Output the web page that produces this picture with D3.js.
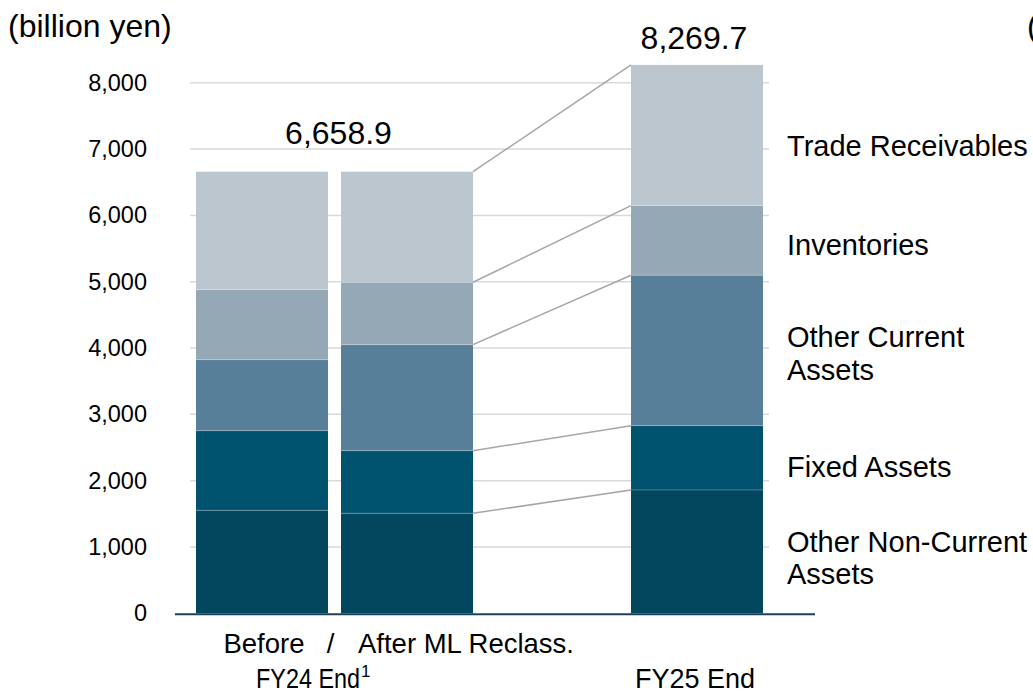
<!DOCTYPE html>
<html>
<head>
<meta charset="utf-8">
<script src="https://cdn.jsdelivr.net/npm/d3@7"></script>
<style>
  html, body { margin: 0; padding: 0; background: #fff; }
  svg { display: block; font-family: "Liberation Sans", Arial, sans-serif; }
</style>
</head>
<body>
<svg id="chart"></svg>
<script>
const categories = ["Before", "After ML Reclass.", "FY25 End"];
const seriesNames = ["Other Non-Current Assets", "Fixed Assets", "Other Current Assets", "Inventories", "Trade Receivables"];
const otherNonCurrent = [1553, 1508, 1860];
const fixedAssets = [1201, 944, 970];
const otherCurrent = [1071, 1599, 2268];
const inventories = [1056, 941, 1050];
const tradeReceivables = [1777.9, 1666.9, 2121.7];
const totals = [6658.9, 6658.9, 8269.7];
const yTicks = [0, 1000, 2000, 3000, 4000, 5000, 6000, 7000, 8000];
const seriesColors = ["#03475f", "#00536f", "#587f99", "#95a8b5", "#bcc6cf"];
const rightLabels = [["Other Non-Current", "Assets"], ["Fixed Assets"], ["Other Current", "Assets"], ["Inventories"], ["Trade Receivables"]];

(function () {
  const W = 1033, H = 692;
  const svg = d3.select("#chart").attr("width", W).attr("height", H);

  const y = d3.scaleLinear().domain([0, 8000]).range([613.3, 82.8]);
  const x = d3.scaleOrdinal().domain(categories).range([196, 341, 631]);
  const barW = 132;

  const rows = categories.map((c, i) => ({
    cat: c,
    "Other Non-Current Assets": otherNonCurrent[i],
    "Fixed Assets": fixedAssets[i],
    "Other Current Assets": otherCurrent[i],
    "Inventories": inventories[i],
    "Trade Receivables": tradeReceivables[i],
  }));
  const stacked = d3.stack().keys(seriesNames)(rows);

  // gridlines
  svg.append("g")
    .selectAll("line")
    .data(yTicks.filter((d) => d > 0))
    .enter()
    .append("line")
    .attr("x1", 190)
    .attr("x2", 769)
    .attr("y1", (d) => y(d))
    .attr("y2", (d) => y(d))
    .attr("stroke", "#d9d9d9")
    .attr("stroke-width", 1.5);

  // y axis labels
  const yAxis = svg.append("g")
    .attr("transform", "translate(147,0)")
    .call(d3.axisLeft(y).tickValues(yTicks).tickFormat(d3.format(",")).tickSize(0).tickPadding(0));
  yAxis.select(".domain").remove();
  yAxis.selectAll("text")
    .attr("font-family", "Liberation Sans, Arial, sans-serif")
    .attr("font-size", "23.5px")
    .attr("fill", "#000");

  // bars
  const layers = svg.append("g")
    .selectAll("g")
    .data(stacked)
    .enter()
    .append("g")
    .attr("fill", (d, i) => seriesColors[i]);
  layers.selectAll("rect")
    .data((d) => d)
    .enter()
    .append("rect")
    .attr("x", (d) => x(d.data.cat))
    .attr("width", barW)
    .attr("y", (d) => y(d[1]))
    .attr("height", (d) => y(d[0]) - y(d[1]));

  // faint separators between segments
  svg.append("g")
    .selectAll("line")
    .data(stacked.slice(0, -1).flatMap((s) => s.map((d) => ({ cat: d.data.cat, v: d[1] }))))
    .enter()
    .append("line")
    .attr("x1", (d) => x(d.cat))
    .attr("x2", (d) => x(d.cat) + barW)
    .attr("y1", (d) => y(d.v))
    .attr("y2", (d) => y(d.v))
    .attr("stroke", "#ffffff")
    .attr("stroke-opacity", 0.25)
    .attr("stroke-width", 1);

  // connectors After -> FY25
  const conn = stacked.map((s) => ({ a: s[1][1], b: s[2][1] }));
  svg.append("g")
    .selectAll("line")
    .data(conn)
    .enter()
    .append("line")
    .attr("x1", x(categories[1]) + barW)
    .attr("x2", x(categories[2]))
    .attr("y1", (d) => y(d.a))
    .attr("y2", (d) => y(d.b))
    .attr("stroke", "#a6a6a6")
    .attr("stroke-width", 1.5);

  // baseline
  svg.append("line")
    .attr("x1", 175)
    .attr("x2", 815)
    .attr("y1", y(0) + 1)
    .attr("y2", y(0) + 1)
    .attr("stroke", "#1c4058")
    .attr("stroke-width", 2);

  // total labels
  const groupCenter = (x(categories[0]) + x(categories[1]) + barW) / 2;
  svg.append("text")
    .attr("x", groupCenter + 4)
    .attr("y", y(totals[0]) - 28)
    .attr("text-anchor", "middle")
    .attr("font-size", "32px")
    .text(d3.format(",.1f")(totals[0]));
  svg.append("text")
    .attr("x", x(categories[2]) + barW / 2 - 3)
    .attr("y", y(totals[2]) - 16)
    .attr("text-anchor", "middle")
    .attr("font-size", "32px")
    .text(d3.format(",.1f")(totals[2]));

  // unit labels
  svg.append("text").attr("x", 8).attr("y", 37).attr("font-size", "32px").text("(billion yen)");
  svg.append("text").attr("x", 1027).attr("y", 37).attr("font-size", "32px").text("(billion yen)");

  // right-side series labels, placed beside the FY25 segments
  const fy = stacked.map((s) => s[2]);
  const labelNudge = [0, 19, -3, 14.5, 21];
  const rl = svg.append("g")
    .selectAll("text")
    .data(rightLabels)
    .enter()
    .append("text")
    .attr("x", 787)
    .attr("y", (d, i) => y((fy[i][0] + fy[i][1]) / 2) + labelNudge[i])
    .attr("font-size", "29px")
    .attr("fill", "#000");
  rl.selectAll("tspan")
    .data((d) => d)
    .enter()
    .append("tspan")
    .attr("x", 787)
    .attr("dy", (d, i) => (i === 0 ? 0 : 32.5))
    .text((d) => d);

  // category labels
  svg.append("text")
    .attr("x", x(categories[0]) + barW / 2 + 2)
    .attr("y", 653)
    .attr("text-anchor", "middle")
    .attr("font-size", "27.5px")
    .text(categories[0]);
  svg.append("text")
    .attr("x", groupCenter - 4)
    .attr("y", 653)
    .attr("text-anchor", "middle")
    .attr("font-size", "27.5px")
    .text("/");
  svg.append("text")
    .attr("x", x(categories[1]) + 17)
    .attr("y", 653)
    .attr("font-size", "27.5px")
    .text(categories[1]);

  const fy24 = svg.append("text")
    .attr("x", 256)
    .attr("y", 688)
    .attr("font-size", "27px");
  fy24.append("tspan")
    .attr("textLength", 104)
    .attr("lengthAdjust", "spacingAndGlyphs")
    .text("FY24 End");
  fy24.append("tspan").attr("font-size", "17px").attr("dx", 1).attr("dy", -11).text("1");
  svg.append("text")
    .attr("x", x(categories[2]) + barW / 2 - 2)
    .attr("y", 688)
    .attr("text-anchor", "middle")
    .attr("font-size", "27px")
    .text(categories[2]);
})();
</script>
</body>
</html>
